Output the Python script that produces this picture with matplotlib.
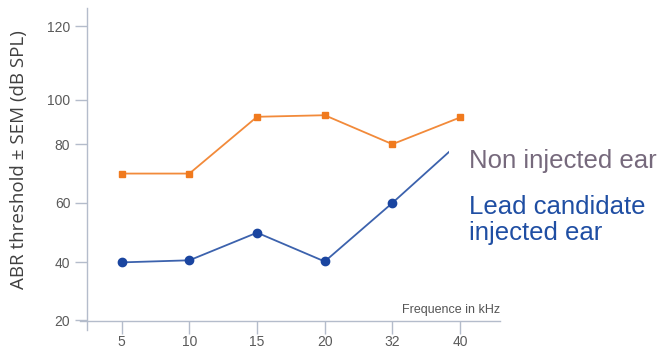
import numpy as np
import matplotlib
matplotlib.use('Agg')
import matplotlib.pyplot as plt

freqs = ['5', '10', '15', '20', '32', '40']
non_injected = [70, 70, 92.3, 93, 80, 92]
lead_injected = [40, 40.7, 50, 40.3, 60, 81]

# uneven y axis: tick value -> height on the axis
y_ticks = [20, 40, 60, 80, 100, 120]
y_vals = np.array([0, 20, 40, 60, 80, 100, 120, 140])
y_pos = np.array([-27, 30, 87.3, 146, 204, 248, 320.3, 393])

def fwd(v):
    return np.interp(v, y_vals, y_pos)

def inv(p):
    return np.interp(p, y_pos, y_vals)

fig = plt.figure(figsize=(6.64, 3.48), dpi=100)
ax = fig.add_axes([87/664, 27.3/348, 413/664, 312.7/348])
ax.set_yscale('function', functions=(fwd, inv))

x = np.arange(len(freqs))
ax.plot(x, non_injected, color='#f28a3a', lw=1.3, marker='s', ms=5,
        mfc='#f07a1e', mec='#f07a1e', zorder=3)
blue, = ax.plot(x, lead_injected, color='#3c62ad', lw=1.3, marker='o', ms=6,
                mfc='#1a45a0', mec='#1a45a0', markevery=slice(0, 5), zorder=3)
# the lead candidate line stops short of the last frequency
clip = plt.Rectangle((-1, 0), 5.83, 200, transform=ax.transData)
blue.set_clip_path(clip)

ax.set_xlim(-0.513, 5.59)
ax.set_ylim(19.9, 125)
ax.set_xticks(x, freqs)
ax.set_yticks(y_ticks)
ax.yaxis.set_minor_locator(matplotlib.ticker.NullLocator())

spine_c = '#b4bccb'
for s in ['top', 'right']:
    ax.spines[s].set_visible(False)
for s in ['left', 'bottom']:
    ax.spines[s].set_color(spine_c)
    ax.spines[s].set_linewidth(1.0)
ax.spines['left'].set_bounds(16.8, 125)
ax.spines['bottom'].set_bounds(-0.62, 5.59)
ax.tick_params(axis='both', colors=spine_c, length=9, width=1.0,
               labelcolor='#5a5a5a', labelsize=10)
ax.tick_params(axis='x', pad=1.5)
ax.tick_params(axis='y', pad=3)
for lab in ax.get_xticklabels() + ax.get_yticklabels():
    lab.set_family('Liberation Sans')

ax.text(5.59, 21.5, 'Frequence in kHz', ha='right', va='bottom',
        fontsize=9, color='#555555', family='Liberation Sans')

fig.text(19/664, 1 - 160/348, 'ABR threshold ± SEM (dB SPL)', rotation=90,
         ha='center', va='center', fontsize=13.5, color='#404040', family='Open Sans')

fig.text(469/664, 1 - 168/348, 'Non injected ear', ha='left', va='baseline',
         fontsize=18.5, color='#76697c', family='Liberation Sans')
fig.text(469/664, 1 - 214/348, 'Lead candidate', ha='left', va='baseline',
         fontsize=18.5, color='#1f4ea3', family='Liberation Sans')
fig.text(469/664, 1 - 240/348, 'injected ear', ha='left', va='baseline',
         fontsize=18.5, color='#1f4ea3', family='Liberation Sans')

fig.savefig('out.png', dpi=100)
